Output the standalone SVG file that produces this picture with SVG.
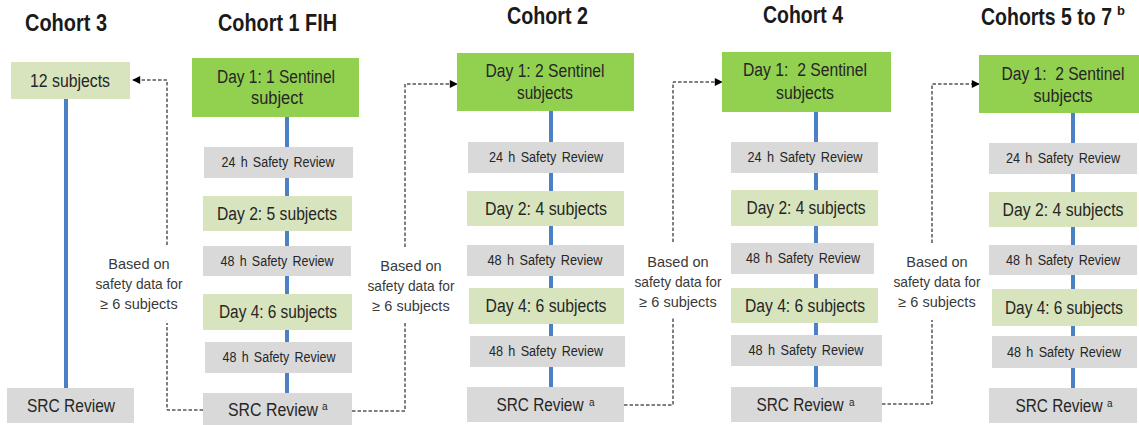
<svg xmlns="http://www.w3.org/2000/svg" width="1139" height="425" viewBox="0 0 1139 425">
  <style>
    text { font-family: "Liberation Sans", Arial, sans-serif; }
    .title { font-size: 24px; font-weight: bold; fill: #1a1a1a; }
    .sup { font-size: 10px; fill: #262626; }
    .supb { font-size: 13px; font-weight: bold; fill: #1a1a1a; }
    .lbl { font-size: 18px; fill: #262626; text-anchor: middle; }
    .sr { font-size: 14px; fill: #262626; text-anchor: middle; word-spacing: 2px; }
    .note { font-size: 14.5px; fill: #3a3a3a; text-anchor: middle; }
    .sent { fill: #92d050; }
    .dose { fill: #d7e4bd; }
    .rev { fill: #d9d9d9; }
    .spine { stroke: #4a80c4; stroke-width: 4; fill: none; }
    .dash { stroke: #000; stroke-width: 1; stroke-dasharray: 3.5 2; fill: none; }
  </style>
  <defs>
    <marker id="arrow" viewBox="0 0 10 10" refX="9" refY="5" markerWidth="9" markerHeight="8" markerUnits="userSpaceOnUse" orient="auto">
      <path d="M0,0 L10,5 L0,10 Z" fill="#000"/>
    </marker>
  </defs>

  <!-- column headings -->
  <g id="headings">
    <text class="title" x="25" y="31" textLength="82" lengthAdjust="spacingAndGlyphs">Cohort 3</text>
    <text class="title" x="218" y="31" textLength="119" lengthAdjust="spacingAndGlyphs">Cohort 1 FIH</text>
    <text class="title" x="507" y="24" textLength="81" lengthAdjust="spacingAndGlyphs">Cohort 2</text>
    <text class="title" x="763" y="23" textLength="80" lengthAdjust="spacingAndGlyphs">Cohort 4</text>
    <text class="title" x="981" y="25" textLength="131" lengthAdjust="spacingAndGlyphs">Cohorts 5 to 7</text>
    <text class="supb" x="1117" y="15">b</text>
  </g>

  <!-- vertical timelines inside each cohort -->
  <g id="spines">
    <line class="spine" x1="66" y1="98" x2="66" y2="389"/>
    <line class="spine" x1="287" y1="116" x2="287" y2="393"/>
    <line class="spine" x1="551" y1="110" x2="551" y2="388"/>
    <line class="spine" x1="816" y1="111" x2="816" y2="388"/>
    <line class="spine" x1="1073" y1="112" x2="1073" y2="389"/>
  </g>

  <!-- dashed escalation connectors -->
  <g id="connectors">
    <polyline class="dash" points="203,410 167,410 167,323"/>
    <polyline class="dash" points="167,245 167,80 133,80" marker-end="url(#arrow)"/>
    <polyline class="dash" points="352,411 405,411 405,323"/>
    <polyline class="dash" points="405,247 405,84 457,84" marker-end="url(#arrow)"/>
    <polyline class="dash" points="624,405 673,405 673,318"/>
    <polyline class="dash" points="673,242 673,82 722,82" marker-end="url(#arrow)"/>
    <polyline class="dash" points="882,404 932,404 932,320"/>
    <polyline class="dash" points="932,243 932,84 979,84" marker-end="url(#arrow)"/>
  </g>

  <!-- connector notes -->
  <g id="note-1">
    <text class="note" x="139" y="269">Based on</text>
    <text class="note" x="139" y="289" textLength="87" lengthAdjust="spacingAndGlyphs">safety data for</text>
    <text class="note" x="139" y="309">≥ 6 subjects</text>
  </g>
  <g id="note-2">
    <text class="note" x="411" y="271">Based on</text>
    <text class="note" x="411" y="291" textLength="87" lengthAdjust="spacingAndGlyphs">safety data for</text>
    <text class="note" x="411" y="311">≥ 6 subjects</text>
  </g>
  <g id="note-3">
    <text class="note" x="678" y="267">Based on</text>
    <text class="note" x="678" y="287" textLength="87" lengthAdjust="spacingAndGlyphs">safety data for</text>
    <text class="note" x="678" y="307">≥ 6 subjects</text>
  </g>
  <g id="note-4">
    <text class="note" x="937" y="267">Based on</text>
    <text class="note" x="937" y="287" textLength="87" lengthAdjust="spacingAndGlyphs">safety data for</text>
    <text class="note" x="937" y="307">≥ 6 subjects</text>
  </g>

  <!-- Cohort 3 -->
  <g id="c3-dose">
    <rect class="dose" x="11" y="62" width="119" height="37"/>
    <text class="lbl" x="70" y="87" textLength="80" lengthAdjust="spacingAndGlyphs">12 subjects</text>
  </g>
  <g id="c3-src">
    <rect class="rev" x="7" y="388" width="127" height="35"/>
    <text class="lbl" x="71" y="412" textLength="88" lengthAdjust="spacingAndGlyphs">SRC Review</text>
  </g>

  <!-- Cohort 1 FIH -->
  <g id="c1-day1">
    <rect class="sent" x="192" y="58" width="167" height="59"/>
    <text class="lbl" x="276" y="83" textLength="118" lengthAdjust="spacingAndGlyphs">Day 1: 1 Sentinel</text>
    <text class="lbl" x="277" y="104" textLength="52" lengthAdjust="spacingAndGlyphs">subject</text>
  </g>
  <g id="c1-24h">
    <rect class="rev" x="204" y="147" width="149" height="31"/>
    <text class="sr" x="278" y="167" textLength="113" lengthAdjust="spacingAndGlyphs">24 h Safety Review</text>
  </g>
  <g id="c1-day2">
    <rect class="dose" x="203" y="196" width="149" height="35"/>
    <text class="lbl" x="277" y="220" textLength="120" lengthAdjust="spacingAndGlyphs">Day 2: 5 subjects</text>
  </g>
  <g id="c1-48h-a">
    <rect class="rev" x="203" y="246" width="148" height="30"/>
    <text class="sr" x="277" y="266" textLength="113" lengthAdjust="spacingAndGlyphs">48 h Safety Review</text>
  </g>
  <g id="c1-day4">
    <rect class="dose" x="203" y="294" width="149" height="36"/>
    <text class="lbl" x="278" y="318" textLength="118" lengthAdjust="spacingAndGlyphs">Day 4: 6 subjects</text>
  </g>
  <g id="c1-48h-b">
    <rect class="rev" x="205" y="342" width="147" height="31"/>
    <text class="sr" x="279" y="362" textLength="113" lengthAdjust="spacingAndGlyphs">48 h Safety Review</text>
  </g>
  <g id="c1-src">
    <rect class="rev" x="203" y="393" width="149" height="32"/>
    <text class="lbl" x="273" y="416" textLength="90" lengthAdjust="spacingAndGlyphs">SRC Review</text>
    <text class="sup" x="322" y="410">a</text>
  </g>

  <!-- Cohort 2 -->
  <g id="c2-day1">
    <rect class="sent" x="457" y="53" width="177" height="58"/>
    <text class="lbl" x="545" y="77" textLength="119" lengthAdjust="spacingAndGlyphs">Day 1: 2 Sentinel</text>
    <text class="lbl" x="545" y="99" textLength="56" lengthAdjust="spacingAndGlyphs">subjects</text>
  </g>
  <g id="c2-24h">
    <rect class="rev" x="468" y="142" width="156" height="31"/>
    <text class="sr" x="546" y="162" textLength="114" lengthAdjust="spacingAndGlyphs">24 h Safety Review</text>
  </g>
  <g id="c2-day2">
    <rect class="dose" x="467" y="191" width="157" height="35"/>
    <text class="lbl" x="546" y="215" textLength="122" lengthAdjust="spacingAndGlyphs">Day 2: 4 subjects</text>
  </g>
  <g id="c2-48h-a">
    <rect class="rev" x="467" y="245" width="157" height="31"/>
    <text class="sr" x="545" y="265" textLength="115" lengthAdjust="spacingAndGlyphs">48 h Safety Review</text>
  </g>
  <g id="c2-day4">
    <rect class="dose" x="469" y="288" width="155" height="36"/>
    <text class="lbl" x="546" y="312" textLength="121" lengthAdjust="spacingAndGlyphs">Day 4: 6 subjects</text>
  </g>
  <g id="c2-48h-b">
    <rect class="rev" x="470" y="336" width="155" height="31"/>
    <text class="sr" x="546" y="356" textLength="114" lengthAdjust="spacingAndGlyphs">48 h Safety Review</text>
  </g>
  <g id="c2-src">
    <rect class="rev" x="467" y="387" width="157" height="35"/>
    <text class="lbl" x="540" y="411" textLength="87" lengthAdjust="spacingAndGlyphs">SRC Review</text>
    <text class="sup" x="589" y="406">a</text>
  </g>

  <!-- Cohort 4 -->
  <g id="c4-day1">
    <rect class="sent" x="722" y="52" width="169" height="60"/>
    <text class="lbl" x="805" y="76" textLength="124" lengthAdjust="spacingAndGlyphs" xml:space="preserve">Day 1:  2 Sentinel</text>
    <text class="lbl" x="805" y="99" textLength="58" lengthAdjust="spacingAndGlyphs">subjects</text>
  </g>
  <g id="c4-24h">
    <rect class="rev" x="731" y="142" width="147" height="31"/>
    <text class="sr" x="805" y="162" textLength="115" lengthAdjust="spacingAndGlyphs">24 h Safety Review</text>
  </g>
  <g id="c4-day2">
    <rect class="dose" x="731" y="190" width="147" height="36"/>
    <text class="lbl" x="806" y="214" textLength="119" lengthAdjust="spacingAndGlyphs">Day 2: 4 subjects</text>
  </g>
  <g id="c4-48h-a">
    <rect class="rev" x="731" y="243" width="143" height="31"/>
    <text class="sr" x="803" y="263" textLength="114" lengthAdjust="spacingAndGlyphs">48 h Safety Review</text>
  </g>
  <g id="c4-day4">
    <rect class="dose" x="731" y="288" width="147" height="35"/>
    <text class="lbl" x="805" y="312" textLength="120" lengthAdjust="spacingAndGlyphs">Day 4: 6 subjects</text>
  </g>
  <g id="c4-48h-b">
    <rect class="rev" x="731" y="335" width="151" height="31"/>
    <text class="sr" x="806" y="355" textLength="115" lengthAdjust="spacingAndGlyphs">48 h Safety Review</text>
  </g>
  <g id="c4-src">
    <rect class="rev" x="731" y="387" width="151" height="35"/>
    <text class="lbl" x="800" y="411" textLength="87" lengthAdjust="spacingAndGlyphs">SRC Review</text>
    <text class="sup" x="849" y="406">a</text>
  </g>

  <!-- Cohorts 5 to 7 -->
  <g id="c5-day1">
    <rect class="sent" x="979" y="55" width="160" height="58"/>
    <text class="lbl" x="1063" y="80" textLength="123" lengthAdjust="spacingAndGlyphs" xml:space="preserve">Day 1:  2 Sentinel</text>
    <text class="lbl" x="1063" y="102" textLength="59" lengthAdjust="spacingAndGlyphs">subjects</text>
  </g>
  <g id="c5-24h">
    <rect class="rev" x="989" y="143" width="148" height="31"/>
    <text class="sr" x="1063" y="163" textLength="114" lengthAdjust="spacingAndGlyphs">24 h Safety Review</text>
  </g>
  <g id="c5-day2">
    <rect class="dose" x="989" y="192" width="148" height="35"/>
    <text class="lbl" x="1063" y="216" textLength="121" lengthAdjust="spacingAndGlyphs">Day 2: 4 subjects</text>
  </g>
  <g id="c5-48h-a">
    <rect class="rev" x="989" y="245" width="148" height="30"/>
    <text class="sr" x="1063" y="265" textLength="114" lengthAdjust="spacingAndGlyphs">48 h Safety Review</text>
  </g>
  <g id="c5-day4">
    <rect class="dose" x="992" y="289" width="145" height="37"/>
    <text class="lbl" x="1064" y="314" textLength="118" lengthAdjust="spacingAndGlyphs">Day 4: 6 subjects</text>
  </g>
  <g id="c5-48h-b">
    <rect class="rev" x="992" y="336" width="145" height="32"/>
    <text class="sr" x="1064" y="357" textLength="114" lengthAdjust="spacingAndGlyphs">48 h Safety Review</text>
  </g>
  <g id="c5-src">
    <rect class="rev" x="989" y="388" width="148" height="35"/>
    <text class="lbl" x="1059" y="412" textLength="87" lengthAdjust="spacingAndGlyphs">SRC Review</text>
    <text class="sup" x="1107" y="407">a</text>
  </g>
</svg>
